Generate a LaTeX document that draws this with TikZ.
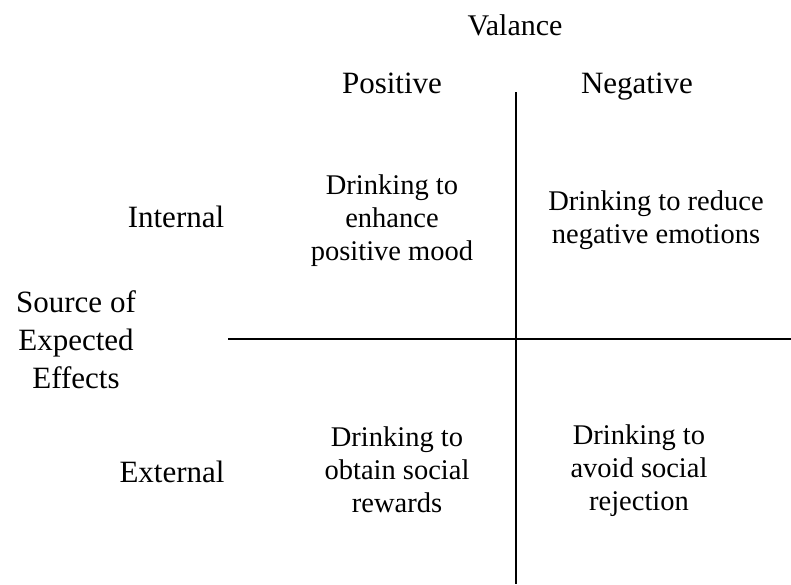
\documentclass[tikz,border=0pt]{standalone}
\usepackage{fontspec}
\setmainfont{Liberation Serif}
\tikzset{
  lbl/.style={inner sep=0pt, align=center, anchor=base, font=\fontsize{28.5}{33}\selectfont},
  head/.style={font=\fontsize{31}{38}\selectfont},
  axis/.style={line width=2.5pt}
}
\begin{document}
\begin{tikzpicture}[x=1pt, y=-1pt]
  \useasboundingbox (0,0) rectangle (791,584);
  % quadrant axes
  \coordinate (vtop) at (516,92);
  \coordinate (vbot) at (516,584);
  \coordinate (hleft) at (228,339);
  \coordinate (hright) at (791,339);
  \draw[axis] (vtop) -- (vbot);
  \draw[axis] (hleft) -- (hright);
  % headings (anchored at last baseline)
  \node[lbl, font=\fontsize{30}{36}\selectfont] (val) at (515,35) {Valance};
  \node[lbl, head] (pos) at (392,93) {Positive};
  \node[lbl, head] (neg) at (637,93) {Negative};
  \node[lbl, head] (int) at (176,227) {Internal};
  \node[lbl, head] (ext) at (172,482) {External};
  \node[lbl, head] (src) at (76,388) {Source of\\Expected\\Effects};
  % quadrant entries
  \node[lbl] (q1) at (392,260) {Drinking to\\enhance\\positive mood};
  \node[lbl] (q2) at (656,243) {Drinking to reduce\\negative emotions};
  \node[lbl] (q3) at (397,512) {Drinking to\\obtain social\\rewards};
  \node[lbl] (q4) at (639,510) {Drinking to\\avoid social\\rejection};
\end{tikzpicture}
\end{document}
